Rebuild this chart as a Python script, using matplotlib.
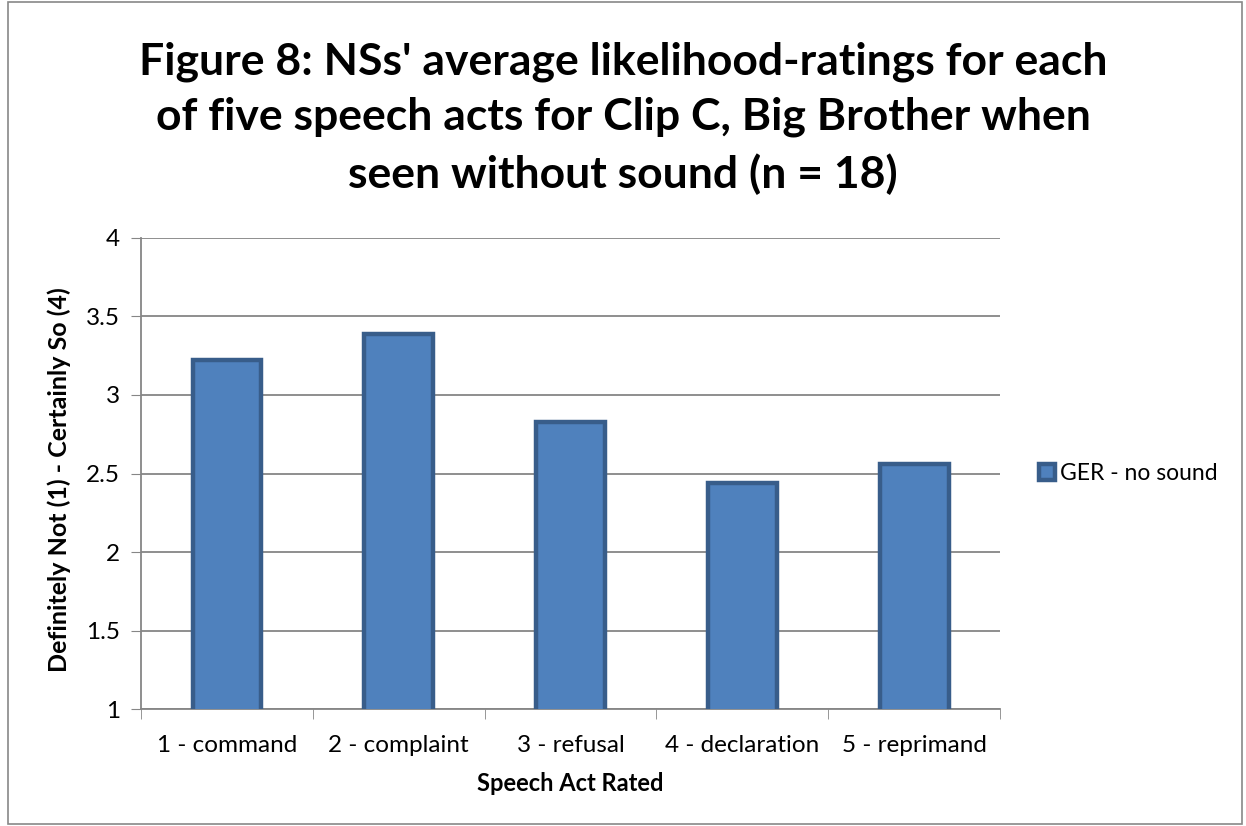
import matplotlib
matplotlib.use("Agg")
import matplotlib.pyplot as plt
from matplotlib.patches import Rectangle
import numpy as np

categories = ["1 - command", "2 - complaint", "3 - refusal", "4 - declaration", "5 - reprimand"]
values = [3.22, 3.39, 2.83, 2.44, 2.56]
series_name = "GER - no sound"
title = "Figure 8: NSs' average likelihood-ratings for each\nof five speech acts for Clip C, Big Brother when\nseen without sound (n = 18)"
xlabel = "Speech Act Rated"
ylabel = "Definitely Not (1) - Certainly So (4)"
yticks = [1, 1.5, 2, 2.5, 3, 3.5, 4]

plt.rcParams['font.family'] = ['Lato', 'DejaVu Sans']

fig = plt.figure(figsize=(12.46, 8.26), dpi=100)
fig.patches.append(Rectangle((0.0065, 0.003), 0.99, 0.994, transform=fig.transFigure,
                             fill=False, edgecolor='#888888', linewidth=1.2))
ax = fig.add_axes([0.1132, 0.1416, 0.8026 - 0.1132, 0.7119 - 0.1416])

x = np.arange(len(categories))
ax.bar(x, values, width=0.40, bottom=0, color='#4F81BD', edgecolor='#385D8A',
       linewidth=3.2, zorder=3, label=series_name)
ax.set_xlim(-0.5, len(categories) - 0.5)
ax.set_ylim(1, 4)
ax.set_yticks(yticks)
ax.set_yticklabels([f"{v:g}" for v in yticks], fontsize=17.5)
ax.set_xticks(x)
ax.set_xticklabels(categories, fontsize=17.5)
ax.tick_params(axis='x', length=0, pad=19)
ax.set_xticks(np.arange(-0.5, len(categories) + 0.5, 1), minor=True)
ax.tick_params(axis='x', which='minor', length=7, color='#868686', direction='out')
ax.tick_params(axis='y', length=7, color='#868686', direction='out', pad=8)
ax.yaxis.grid(True, color='#868686', linewidth=1.3, zorder=0)
for s in ['top', 'right']:
    ax.spines[s].set_visible(False)
for s in ['left', 'bottom']:
    ax.spines[s].set_color('#868686')
    ax.spines[s].set_linewidth(1.3)

ax.set_xlabel(xlabel, fontsize=17, fontweight='bold', labelpad=11)
ax.set_ylabel(ylabel, fontsize=18, fontweight='bold')
ax.yaxis.set_label_coords(-0.081, 0.488)
fig.text(0.5, 0.857, title, ha='center', va='center', fontsize=32,
         fontweight='bold', linespacing=1.45)

leg = ax.legend(loc='center left', bbox_to_anchor=(1.045, 0.5), frameon=False,
                fontsize=16.5, handlelength=0.7, handleheight=0.7, handletextpad=0.25,
                borderaxespad=0, borderpad=0)

fig.savefig("out.png", dpi=100)
